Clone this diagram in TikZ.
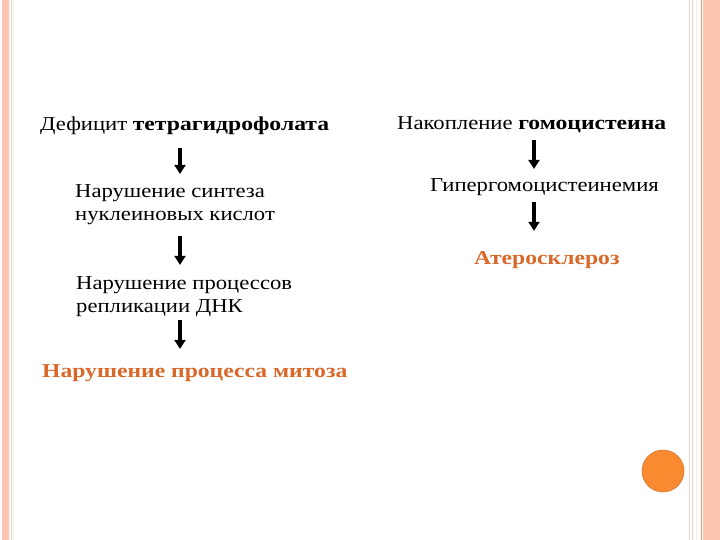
\documentclass[tikz,border=0pt]{standalone}
\usepackage{fontspec}
\setmainfont{Liberation Serif}[FakeStretch=1.15, BoldFeatures={FakeStretch=1.2}]
\usepackage{tikz}
\usetikzlibrary{arrows.meta, positioning, calc}
\definecolor{framesalmon}{HTML}{FCC3AE}
\definecolor{framepale}{HTML}{EDD3C6}
\definecolor{framecream}{HTML}{F6F1DC}
\definecolor{frameorange}{HTML}{EE9574}
\definecolor{resultorange}{HTML}{D9682A}
\definecolor{dotorange}{HTML}{FA8A30}

\begin{document}
\begin{tikzpicture}[x=1bp, y=-1bp, >={Triangle[length=9bp, width=11bp]}]
        \tikzset{txt/.style={inner sep=0pt, anchor=base west, align=left,
            font=\fontsize{19.7bp}{23bp}\selectfont},
            res/.style={txt, text=resultorange, font=\fontsize{19.7bp}{23bp}\selectfont\bfseries},
            arr/.style={->, line width=3.5bp}}
        \useasboundingbox (0,0) rectangle (720,540);
        % slide frame
        \fill[framesalmon] (2,0) rectangle (9,540);
        \draw[framepale, line width=1bp] (11.5,0) -- (11.5,540);
        \draw[framecream, line width=1bp] (13.5,0) -- (13.5,540);
        \draw[framepale, line width=1bp] (689,0) -- (689,540);
        \draw[framepale, line width=1.5bp] (692.5,0) -- (692.5,540);
        \draw[framecream, line width=1bp] (696,0) -- (696,540);
        \draw[frameorange, line width=1.5bp] (701.5,0) -- (701.5,540);
        \fill[framesalmon] (702.5,0) rectangle (720,540);
        % left chain
        \node[txt] (deficit) at (40,131) {Дефицит \textbf{тетрагидрофолата}};
        \node[txt] (synth) at (75,221) {Нарушение синтеза\\нуклеиновых кислот};
        \node[txt] (repl) at (76,312) {Нарушение процессов\\репликации ДНК};
        \node[res] (mitosis) at (42,377) {Нарушение процесса митоза};
        % right chain
        \node[txt] (accum) at (397,130) {Накопление \textbf{гомоцистеина}};
        \node[txt] (hyper) at (430,192) {Гипергомоцистеинемия};
        \node[res] (athero) at (474,265) {Атеросклероз};
        \coordinate (lx) at (180,0);
        \coordinate (rx) at (534,0);
        \draw[arr] ($(deficit.south -| lx)+(0,13)$) -- ($(synth.north -| lx)+(0,-11)$);
        \draw[arr] ($(synth.south -| lx)+(0,11)$) -- ($(repl.north -| lx)+(0,-11)$);
        \draw[arr] ($(repl.south -| lx)+(0,4)$) -- ($(mitosis.north -| lx)+(0,-15)$);
        \draw[arr] ($(accum.south -| rx)+(0,6)$) -- ($(hyper.north -| rx)+(0,-10)$);
        \draw[arr] ($(hyper.south -| rx)+(0,6)$) -- ($(athero.north -| rx)+(0,-21)$);
        % corner dot
        \node[circle, fill=dotorange, draw=dotorange!85!black, line width=0.6bp,
            minimum size=42bp, inner sep=0pt] (dot) at (663,471) {};
\end{tikzpicture}
\end{document}
